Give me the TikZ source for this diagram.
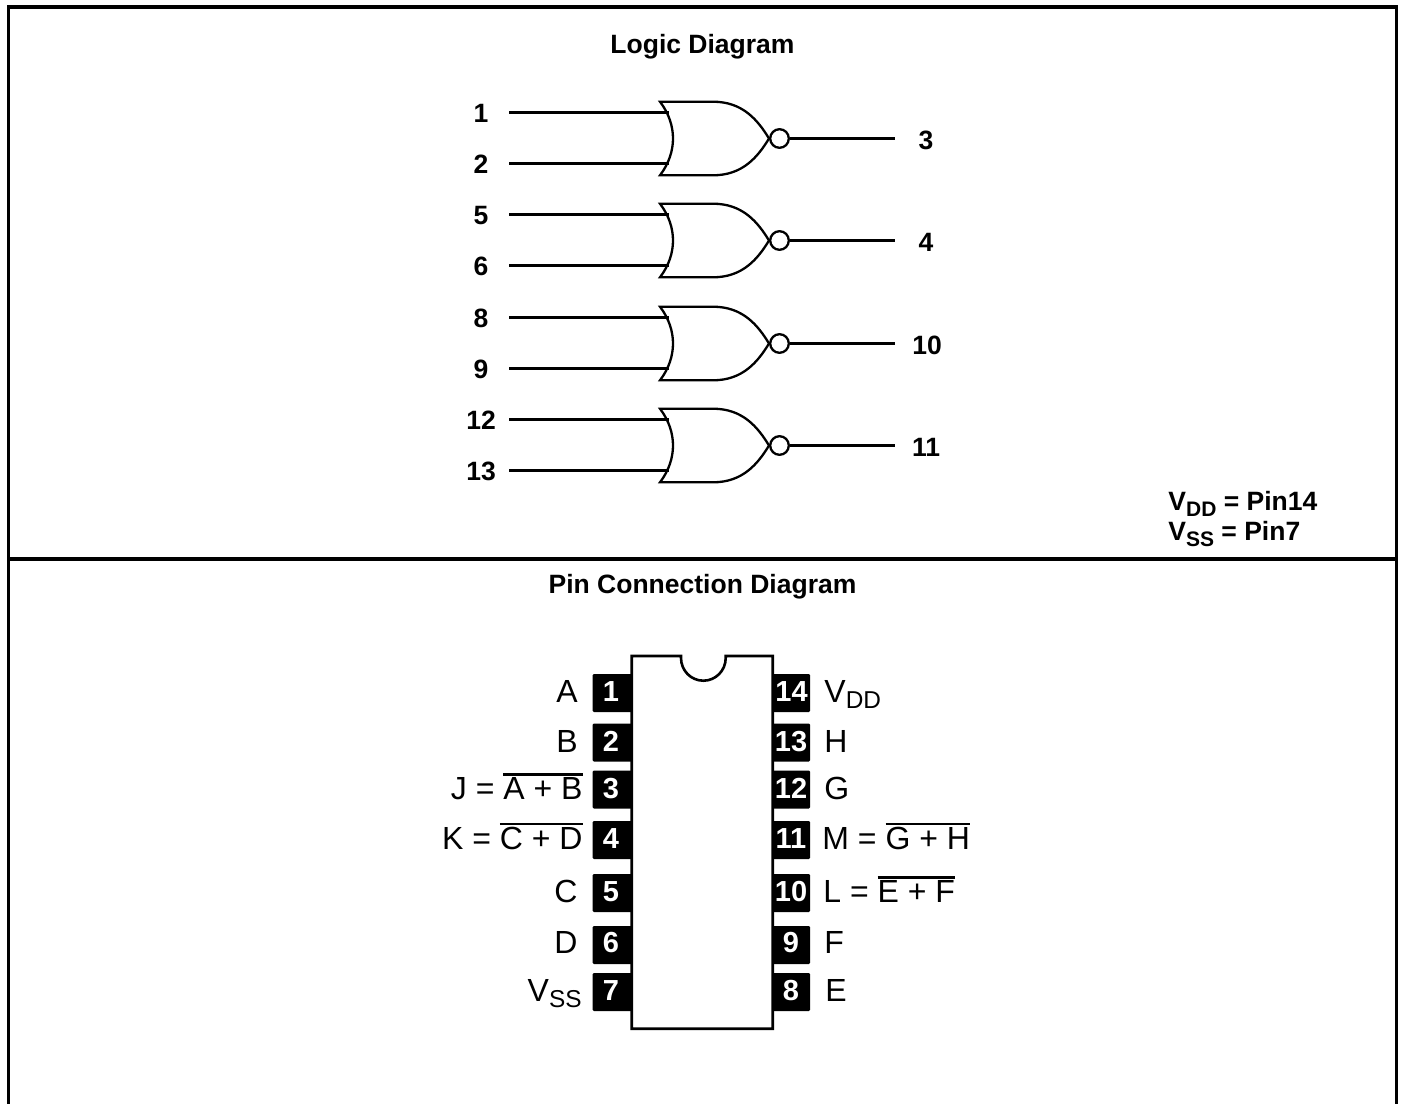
\documentclass[tikz,border=0pt]{standalone}
\usepackage{fontspec}
\setmainfont{Liberation Sans}
\newcommand\ovl[1]{\vbox{\hrule height 1.2pt\kern 0.6pt\hbox{#1}}}
\newcommand\subt[1]{\raisebox{-3pt}{\fontsize{12.2}{12}\selectfont #1}}
\newcommand\subb[1]{\raisebox{-3pt}{\fontsize{10.5}{12}\selectfont\bfseries #1}}
\tikzset{
  x=0.5pt,y=-0.5pt,
  frameline/.style={line width=1.9pt,black},
  wire/.style={line width=1.15pt,black},
  bold label/.style={inner sep=0pt,font=\fontsize{13.25}{15}\selectfont\bfseries,anchor=base},
  title label/.style={inner sep=0pt,font=\fontsize{13.25}{15}\selectfont\bfseries,anchor=base},
  pin name/.style={inner sep=0pt,font=\fontsize{16}{18}\selectfont},
  pin num/.style={inner sep=0pt,font=\fontsize{14.5}{18}\selectfont\bfseries,text=white,anchor=base},
  pinbox/.style={fill=black,rounded corners=0.6pt,draw=none},
  chipbody/.style={draw=black,fill=white,line width=1.3pt,line join=miter},
}
\begin{document}
\begin{tikzpicture}
\useasboundingbox (0,0) rectangle (1402,1103);
% frame
\coordinate (fbl) at (8.5,1110);
\coordinate (ftl) at (8.5,7.3);
\coordinate (ftr) at (1396.5,7.3);
\coordinate (fbr) at (1396.5,1110);
\coordinate (dl) at (8.5,558.7);
\coordinate (dr) at (1396.5,558.7);
\draw[frameline,line join=miter] (fbl) -- (ftl) -- (ftr) -- (fbr);
\draw[frameline] (dl) -- (dr);
\node[title label] (t1) at (702.5,53) {Logic Diagram};
\node[title label] (t2) at (702.5,593) {Pin Connection Diagram};
% gates
\foreach \n/\yy/\la/\lb/\lo/\ox in {a/138.5/1/2/3/926,b/240.5/5/6/4/926,c/343.5/8/9/10/927,d/445.5/12/13/11/926}{
  \begin{scope}[yshift={-0.5pt*\yy}]
    \coordinate (\n ia) at (509,-26);
    \coordinate (\n ib) at (509,25);
    \coordinate (\n ga) at (668.5,-26);
    \coordinate (\n gb) at (668.5,25);
    \coordinate (\n o) at (895,0);
    \draw[wire,line join=miter] (660,-36.8) -- (713,-36.8)
       .. controls (743,-36.8) and (758,-18) .. (769,0)
       .. controls (758,18) and (743,36.8) .. (713,36.8) -- (660,36.8)
       .. controls (669,25) and (673,12) .. (673,0)
       .. controls (673,-12) and (669,-25) .. (660,-36.8) -- cycle;
    \node[circle,draw=black,line width=1.15pt,minimum size=9.3pt,inner sep=0pt] (\n b) at (779.5,0) {};
    \draw[wire] (\n ia) -- (\n ga);
    \draw[wire] (\n ib) -- (\n gb);
    \draw[wire] (\n b.east) -- (\n o);
    \node[bold label] (\n la) at (481,-16.5) {\la};
    \node[bold label] (\n lb) at (481,35) {\lb};
    \node[bold label] (\n lo) at (\ox,10.5) {\lo};
  \end{scope}
}
\node[inner sep=0pt,anchor=base west,font=\fontsize{13.25}{15}\selectfont\bfseries] (vdd) at (1168,510.7) {V\subb{DD} = Pin14};
\node[inner sep=0pt,anchor=base west,font=\fontsize{13.25}{15}\selectfont\bfseries] (vss) at (1168,540.7) {V\subb{SS} = Pin7};
% pin boxes
\foreach \i/\c in {1/693,2/742.5,3/789.5,4/840,5/893,6/945,7/992}{
  \fill[pinbox] (592.7,\c-19) rectangle (635,\c+19);
}
\foreach \i/\c in {14/693,13/742.5,12/789.5,11/840,10/893,9/945,8/992}{
  \fill[pinbox] (770,\c-19) rectangle (810,\c+19);
}
% body
\draw[chipbody] (631.7,656) -- (681,656) -- (681,658)
  arc[start angle=180,end angle=360,x radius=22.35,y radius=-22.7] -- (725.7,656)
  -- (772.7,656) -- (772.7,1028.7) -- (631.7,1028.7) -- cycle;
% pin numbers
\foreach \t/\x/\y in {1/611/701.5,2/611/751.5,3/611/798.5,4/611/848.5,5/611/901.5,6/611/952.5,7/611/1000.5,
 14/791.5/701.5,13/791/751.5,12/791/798.5,11/791/848.5,10/791/901.5,9/791/952.5,8/791/1000.5}{
  \node[pin num] (pn\t) at (\x,\y) {\t};
}
% pin names
\node[pin name,anchor=base east] (la) at (578,702) {A};
\node[pin name,anchor=base east] (lb) at (578,752) {B};
\node[pin name,anchor=base east] (lj) at (583,799) {J = \ovl{A + B}};
\node[pin name,anchor=base east] (lk) at (583,849) {K = \ovl{C + D}};
\node[pin name,anchor=base east] (lc) at (578,902) {C};
\node[pin name,anchor=base east] (ld) at (578,953) {D};
\node[pin name,anchor=base east] (lss) at (582,1001) {V\subt{SS}};
\node[pin name,anchor=base west] (ldd) at (824,702) {V\subt{DD}};
\node[pin name,anchor=base west] (lh) at (824,752) {H};
\node[pin name,anchor=base west] (lg) at (824,799) {G};
\node[pin name,anchor=base west] (lm) at (822,849) {M = \ovl{G + H}};
\node[pin name,anchor=base west] (ll) at (823,902) {L = \ovl{E + F}};
\node[pin name,anchor=base west] (lf) at (824,953) {F};
\node[pin name,anchor=base west] (le) at (825,1001) {E};
\end{tikzpicture}
\end{document}
